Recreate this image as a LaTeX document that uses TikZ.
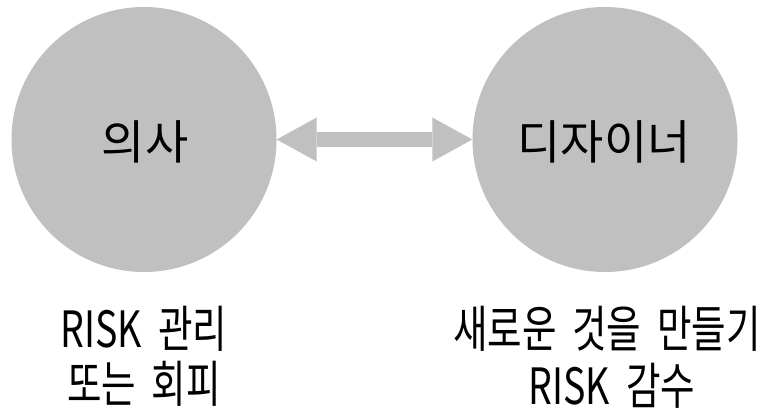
\documentclass[tikz,border=0pt]{standalone}
\usepackage{fontspec}
\usetikzlibrary{arrows.meta}
\newfontfamily\krfont{Noto Sans CJK KR}
\newfontfamily\krcond[FakeStretch=0.75,WordSpace=1.9]{Noto Sans CJK KR}
\definecolor{circgray}{RGB}{192,192,192}
\tikzset{
  role/.style={circle, fill=circgray, minimum size=265pt, inner sep=0pt,
    font=\krfont\fontsize{47}{52}\selectfont, text=black},
  rolelbl/.style={anchor=base, inner sep=0pt, font=\krfont\fontsize{47}{52}\selectfont, text=black},
  desc/.style={anchor=base, inner sep=0pt, font=\krcond\fontsize{50}{56}\selectfont, text=black},
  link/.style={draw=circgray, line width=15pt,
    {Triangle[length=40pt,width=44pt,line width=0pt]}-{Triangle[length=40pt,width=44pt,line width=0pt]}}
}
\begin{document}
\begin{tikzpicture}[x=1pt,y=-1pt]
\fill[white] (0,0) rectangle (768,417);
\useasboundingbox (0,0) rectangle (768,417);
\node[role] (doc) at (144,139.5) {};
\node[role] (des) at (605,139.5) {};
\node[rolelbl] (doclbl) at (145,159) {의사};
\node[rolelbl] (deslbl) at (604,159) {디자이너};
\draw[link] (doc) -- (des);
\node[desc] (d1) at (144,347) {RISK 관리};
\node[desc] (d2) at (144,402) {또는 회피};
\node[desc] (e1) at (607,347) {새로운 것을 만들기};
\node[desc] (e2) at (612,404) {RISK 감수};
\end{tikzpicture}
\end{document}
